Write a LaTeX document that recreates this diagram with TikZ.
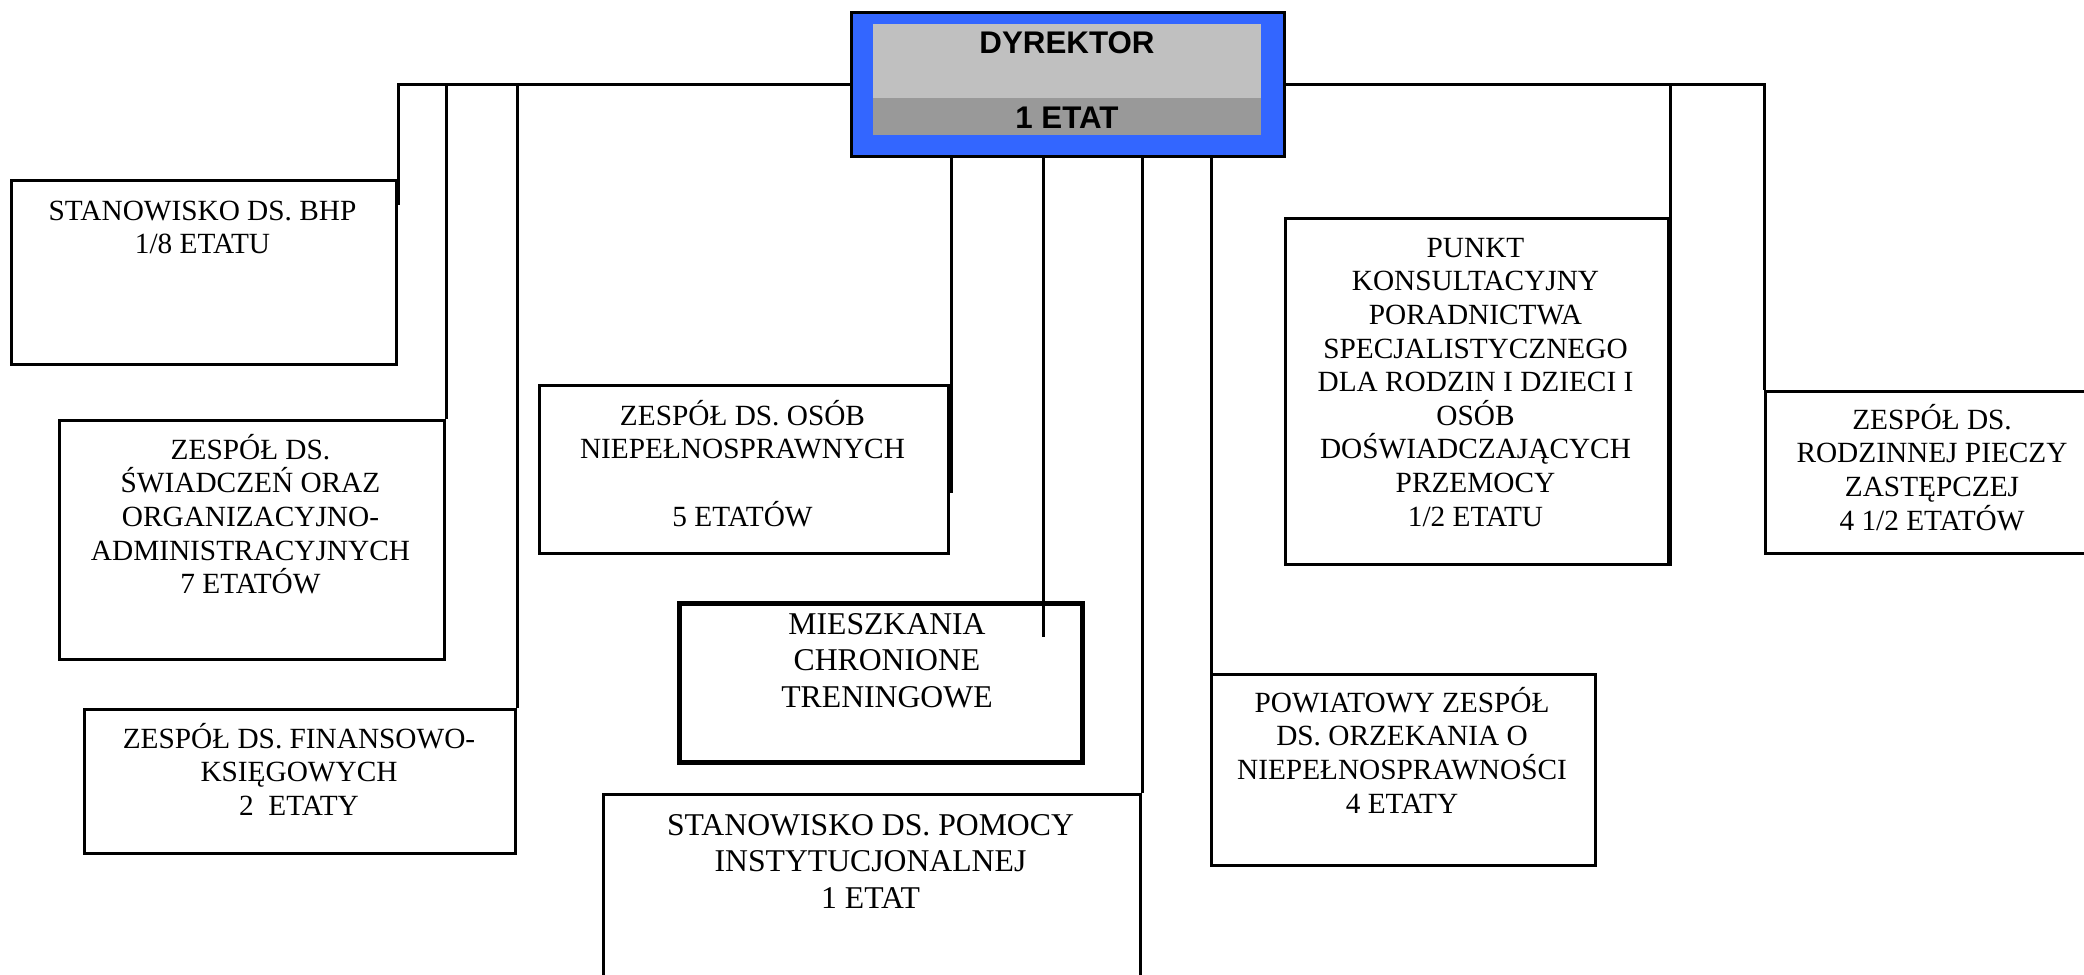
\documentclass[tikz,border=0pt]{standalone}
\usepackage{fontspec}
\setmainfont{Liberation Serif}
\newfontfamily\dirfont{Liberation Sans}
\usetikzlibrary{calc}
\newcommand{\firstline}{\rule{0pt}{1em}}
\definecolor{dirblue}{HTML}{3366FF}
\definecolor{lightg}{HTML}{C0C0C0}
\definecolor{darkg}{HTML}{999999}
\begin{document}
\begin{tikzpicture}[x=1pt,y=-1pt,
  unit/.style={draw=black, line width=3pt, rectangle, inner sep=0pt, anchor=north west},
  thickunit/.style={unit, line width=5pt},
  conn/.style={draw=black, line width=3pt},
  txt/.style={font=\fontsize{29.3}{33.6}\selectfont, align=center, inner sep=0pt, anchor=north},
  bigtxt/.style={font=\fontsize{31.7}{36.6}\selectfont, align=center, inner sep=0pt, anchor=north},
  dirtxt/.style={font=\dirfont\bfseries\fontsize{31.3}{36}\selectfont, inner sep=0pt, anchor=base}
]
\useasboundingbox (0,0) rectangle (2084,974);

% director
\node[unit, fill=dirblue, minimum width=433pt, minimum height=144pt] (dyr) at (850,11) {};
\node[fill=lightg, rectangle, inner sep=0pt, anchor=north west, minimum width=388pt, minimum height=74pt] (dyrtop) at (873,24) {};
\node[fill=darkg, rectangle, inner sep=0pt, anchor=north west, minimum width=388pt, minimum height=37pt] (dyrbot) at (873,98) {};
\node[dirtxt] (dyrname) at (1067,54) {DYREKTOR};
\node[dirtxt] (dyretat) at (1067,128) {1 ETAT};

% units
\node[unit, minimum width=385pt, minimum height=184pt] (bhp) at (10,179) {};
\node[unit, minimum width=385pt, minimum height=239pt] (swiad) at (58,419) {};
\node[unit, minimum width=431pt, minimum height=144pt] (fin) at (83,708) {};
\node[unit, minimum width=409pt, minimum height=168pt] (niep) at (538,384) {};
\node[thickunit, minimum width=403pt, minimum height=159pt] (miesz) at (677,601) {};
\node[unit, minimum width=537pt, minimum height=220pt] (pomoc) at (602,793) {};
\node[unit, minimum width=384pt, minimum height=191pt] (powiat) at (1210,673) {};
\node[unit, minimum width=383pt, minimum height=346pt] (punkt) at (1284,217) {};
\node[unit, minimum width=345pt, minimum height=162pt] (rodz) at (1764,390) {};

% texts
\node[txt] (bhpT) at (202.5,190.7) {\firstline STANOWISKO DS. BHP\\1/8 ETATU};
\node[txt] (swiadT) at (250.5,429.7) {\firstline ZESPÓŁ DS.\\ŚWIADCZEŃ ORAZ\\ORGANIZACYJNO-\\ADMINISTRACYJNYCH\\7 ETATÓW};
\node[txt] (finT) at (299,718.7) {\firstline ZESPÓŁ DS. FINANSOWO-\\KSIĘGOWYCH\\2\ \ ETATY};
\node[txt] (niepT) at (742.5,395.7) {\firstline ZESPÓŁ DS. OSÓB\\NIEPEŁNOSPRAWNYCH\\[33.6pt]5 ETATÓW};
\node[bigtxt] (mieszT) at (887,602.3) {\firstline MIESZKANIA\\CHRONIONE\\TRENINGOWE};
\node[bigtxt] (pomocT) at (870.5,803.3) {\firstline STANOWISKO DS. POMOCY\\INSTYTUCJONALNEJ\\1 ETAT};
\node[txt] (powiatT) at (1402,682.7) {\firstline POWIATOWY ZESPÓŁ\\DS. ORZEKANIA O\\NIEPEŁNOSPRAWNOŚCI\\4 ETATY};
\node[txt] (punktT) at (1475.5,227.7) {\firstline PUNKT\\KONSULTACYJNY\\PORADNICTWA\\SPECJALISTYCZNEGO\\DLA RODZIN I DZIECI I\\OSÓB\\DOŚWIADCZAJĄCYCH\\PRZEMOCY\\1/2 ETATU};
\node[txt] (rodzT) at (1932,399.7) {\firstline ZESPÓŁ DS.\\RODZINNEJ PIECZY\\ZASTĘPCZEJ\\4 1/2 ETATÓW};

% connectors
\coordinate (bhpEnd) at ($(bhp.north east)+(0,26)$);
\draw[conn] (dyr.west) -| (bhpEnd);
\draw[conn] (swiad.north east) -- (swiad.north east |- dyr.west);
\draw[conn] (fin.north east) -- (fin.north east |- dyr.west);
\coordinate (niepEnd) at ($(niep.north east)+(1,109)$);
\draw[conn] (niepEnd |- dyr.south) -- (niepEnd);
\coordinate (mieszEnd) at ($(miesz.north west)+(366,36)$);
\draw[conn] (mieszEnd |- dyr.south) -- (mieszEnd);
\draw[conn] (pomoc.north east |- dyr.south) -- (pomoc.north east);
\coordinate (powEnd) at ($(powiat.north west)+(1,107)$);
\draw[conn] (powEnd |- dyr.south) -- (powEnd);
\draw[conn] (dyr.east) -| (rodz.north west);
\draw[conn] (punkt.south east) -- (punkt.south east |- dyr.east);
\end{tikzpicture}
\end{document}
